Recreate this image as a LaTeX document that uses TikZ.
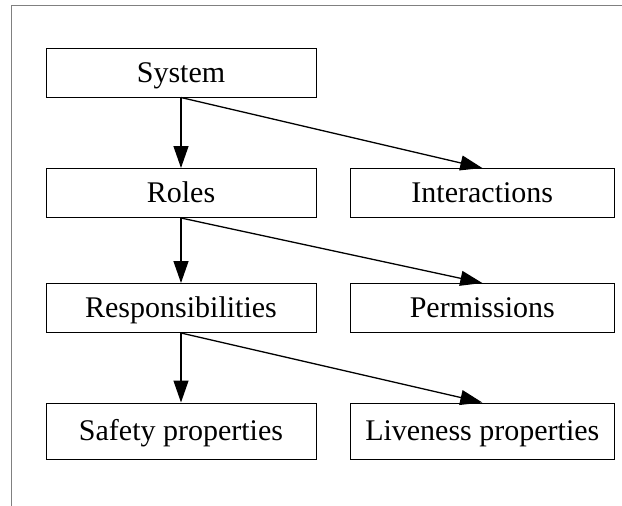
\documentclass[tikz,border=0pt]{standalone}
\usepackage{fontspec}
\setmainfont{Liberation Serif}
\usetikzlibrary{arrows.meta}
\begin{document}
\begin{tikzpicture}[x=1pt,y=-1pt,
  box/.style={draw=black,line width=1pt,inner sep=0pt,minimum height=49pt,
    text height=19.5pt,text depth=0pt,font=\fontsize{30}{35}\selectfont},
  lbox/.style={box,minimum width=270pt},
  rbox/.style={box,minimum width=263.5pt},
  tall/.style={minimum height=56pt},
  conn/.style={line width=1.3pt,-{Triangle[length=22pt,width=15pt]}},
  frame/.style={draw=gray,line width=1pt}]
\useasboundingbox (0,0) rectangle (622,506);
\coordinate (fbl) at (11,506);
\coordinate (ftl) at (11,5);
\coordinate (ftr) at (622,5);
\draw[frame] (fbl) -- (ftl) -- (ftr);
\node[lbox] (sys) at (181,72.5) {System};
\node[lbox] (rol) at (181,193) {Roles};
\node[rbox] (int) at (482.3,193) {Interactions};
\node[lbox] (res) at (181,308) {Responsibilities};
\node[rbox] (per) at (482.3,308) {Permissions};
\node[lbox,tall] (saf) at (181,431) {Safety properties};
\node[rbox,tall] (liv) at (482.3,431) {Liveness properties};
\draw[conn] (sys.south) -- (rol.north);
\draw[conn] (sys.south) -- (int.north);
\draw[conn] (rol.south) -- (res.north);
\draw[conn] (rol.south) -- (per.north);
\draw[conn] (res.south) -- (saf.north);
\draw[conn] (res.south) -- (liv.north);
\end{tikzpicture}
\end{document}
